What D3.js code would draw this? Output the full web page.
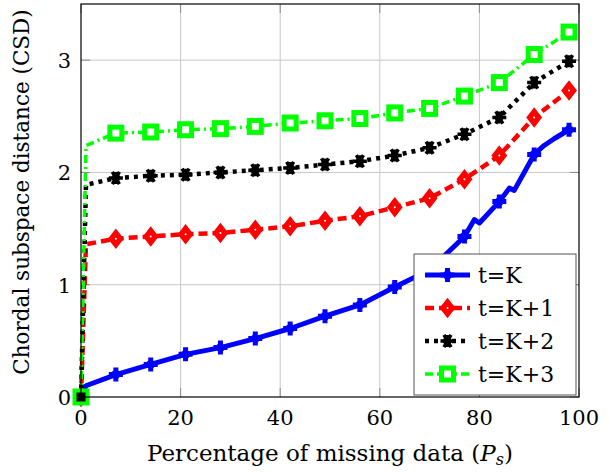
<!DOCTYPE html>
<html>
<head>
<meta charset="utf-8">
<script src="https://cdn.jsdelivr.net/npm/d3@7"></script>
<style>
  body { margin: 0; background: #fff; }
  svg text { font-family: "DejaVu Serif", "Liberation Serif", serif; fill: #000; }
</style>
</head>
<body>
<div id="chart"></div>
<script>
// valeurs
const missingPct = [0, 1, 7, 14, 21, 28, 35, 42, 49, 56, 63, 70, 77, 84, 91, 98];
const csdK1 = [0, 1.36, 1.41, 1.43, 1.45, 1.46, 1.49, 1.52, 1.57, 1.61, 1.69, 1.77, 1.94, 2.15, 2.49, 2.73];
const csdK2 = [0, 1.89, 1.95, 1.97, 1.98, 2.00, 2.02, 2.04, 2.07, 2.10, 2.15, 2.22, 2.34, 2.49, 2.80, 2.99];
const csdK3 = [0, 2.24, 2.35, 2.36, 2.38, 2.39, 2.41, 2.44, 2.46, 2.48, 2.53, 2.57, 2.68, 2.80, 3.05, 3.25];
const missingPctK = [0, 1, 7, 14, 21, 28, 35, 42, 49, 56, 63, 70, 77, 79, 80, 84, 86, 87, 91, 93, 95, 98];
const csdK = [0, 0.10, 0.20, 0.29, 0.38, 0.44, 0.52, 0.61, 0.72, 0.82, 0.98, 1.13, 1.43, 1.58, 1.55, 1.74, 1.86, 1.84, 2.16, 2.24, 2.30, 2.38];
const seriesLabels = ["t=K", "t=K+1", "t=K+2", "t=K+3"];
const xTicks = [0, 20, 40, 60, 80, 100];
const yTicks = [0, 1, 2, 3];

const W = 610, H = 472;
const plot = { left: 81, right: 579, top: 4, bottom: 397 };

const svg = d3.select("#chart").append("svg")
    .attr("width", W)
    .attr("height", H);

const x = d3.scaleLinear().domain([0, 100]).range([plot.left, plot.right]);
const y = d3.scaleLinear().domain([0, 3.5]).range([plot.bottom, plot.top]);

// grille
svg.append("g").selectAll("line.gx")
    .data(xTicks.slice(1, -1))
    .enter().append("line")
    .attr("x1", d => x(d)).attr("x2", d => x(d))
    .attr("y1", plot.top).attr("y2", plot.bottom)
    .attr("stroke", "#c8c8c8").attr("stroke-width", 1);
svg.append("g").selectAll("line.gy")
    .data(yTicks.slice(1))
    .enter().append("line")
    .attr("x1", plot.left).attr("x2", plot.right)
    .attr("y1", d => y(d)).attr("y2", d => y(d))
    .attr("stroke", "#c8c8c8").attr("stroke-width", 1);

// petites graduations intérieures
const tickLen = 9;
const tg = svg.append("g").attr("stroke", "#8a8a8a").attr("stroke-width", 1);
xTicks.forEach(t => {
    tg.append("line").attr("x1", x(t)).attr("x2", x(t)).attr("y1", plot.bottom).attr("y2", plot.bottom - tickLen);
    tg.append("line").attr("x1", x(t)).attr("x2", x(t)).attr("y1", plot.top).attr("y2", plot.top + tickLen);
});
yTicks.forEach(t => {
    tg.append("line").attr("y1", y(t)).attr("y2", y(t)).attr("x1", plot.left).attr("x2", plot.left + tickLen);
    tg.append("line").attr("y1", y(t)).attr("y2", y(t)).attr("x1", plot.right).attr("x2", plot.right - tickLen);
});

// labels des ticks
svg.append("g").selectAll("text")
    .data(xTicks)
    .enter().append("text")
    .attr("x", d => x(d))
    .attr("y", 425)
    .attr("text-anchor", "middle")
    .style("font-size", "21px")
    .text(d => d);
svg.append("g").selectAll("text")
    .data(yTicks)
    .enter().append("text")
    .attr("x", 71)
    .attr("y", d => y(d) + 8)
    .attr("text-anchor", "end")
    .style("font-size", "21px")
    .text(d => d);

// titres des axes
const xLabel = svg.append("text")
    .attr("x", (plot.left + plot.right) / 2)
    .attr("y", 461)
    .attr("text-anchor", "middle")
    .style("font-size", "23px");
xLabel.append("tspan").text("Percentage of missing data (");
xLabel.append("tspan").style("font-style", "italic").text("P");
xLabel.append("tspan").style("font-style", "italic").style("font-size", "16px").attr("dy", 4).text("s");
xLabel.append("tspan").attr("dy", -4).text(")");

svg.append("text")
    .attr("transform", "translate(29, 192) rotate(-90)")
    .attr("text-anchor", "middle")
    .style("font-size", "21.5px")
    .text("Chordal subspace distance (CSD)");

// séries
const series = [
    { xs: missingPctK, ys: csdK, color: "#0000ff", dash: null, width: 5, mark: "cross" },
    { xs: missingPct, ys: csdK1, color: "#ff0000", dash: "9,5", width: 4.5, mark: "diamond" },
    { xs: missingPct, ys: csdK2, color: "#000000", dash: "4,5", width: 4.5, mark: "asterisk" },
    { xs: missingPct, ys: csdK3, color: "#00ff00", dash: "8,4,2,4", width: 3.5, mark: "square" }
];

const line = d3.line().x(d => x(d[0])).y(d => y(d[1]));

svg.append("defs").append("clipPath").attr("id", "plotclip")
    .append("rect")
    .attr("x", plot.left - 12).attr("y", plot.top)
    .attr("width", plot.right - plot.left + 24).attr("height", plot.bottom - plot.top + 12);

function drawMark(g, type, color) {
    if (type === "cross") {
        g.append("path")
            .attr("d", "M-7,0H7M0,-7V7")
            .attr("stroke", color).attr("stroke-width", 5);
        g.append("circle").attr("r", 4.5).attr("fill", color);
    } else if (type === "diamond") {
        g.append("path")
            .attr("d", "M0,-9L7,0L0,9L-7,0Z")
            .attr("fill", color).attr("stroke", color).attr("stroke-width", 1.5);
        g.append("circle").attr("r", 1).attr("fill", "#fff");
    } else if (type === "asterisk") {
        g.append("path")
            .attr("d", "M-7,0H7M-3.5,-6.1L3.5,6.1M-3.5,6.1L3.5,-6.1M0,-6V6")
            .attr("stroke", color).attr("stroke-width", 3.5);
        g.append("circle").attr("r", 4).attr("fill", color);
    } else if (type === "square") {
        g.append("rect")
            .attr("x", -6).attr("y", -6).attr("width", 12).attr("height", 12)
            .attr("fill", "#fff").attr("stroke", color).attr("stroke-width", 5);
    }
}

const linesG = svg.append("g").attr("clip-path", "url(#plotclip)");
series.forEach(s => {
    const pts = s.xs.map((v, i) => [v, s.ys[i]]);
    linesG.append("path")
        .attr("d", line(pts))
        .attr("fill", "none")
        .attr("stroke", s.color)
        .attr("stroke-width", s.width)
        .attr("stroke-dasharray", s.dash)
        .attr("stroke-linejoin", "round");
});

// marqueurs tous les 7 %
series.forEach((s, k) => {
    s.xs.forEach((v, i) => {
        if (v % 7 !== 0) return;
        const g = svg.append("g").attr("transform", `translate(${x(v)},${y(s.ys[i])})`);
        drawMark(g, s.mark, s.color);
    });
});
// à l'origine le carré vert a un centre noir
svg.append("rect")
    .attr("x", x(0) - 4.5).attr("y", y(0) - 4.5)
    .attr("width", 9).attr("height", 9)
    .attr("fill", "#000");

// cadre
svg.append("rect")
    .attr("x", plot.left).attr("y", plot.top)
    .attr("width", plot.right - plot.left).attr("height", plot.bottom - plot.top)
    .attr("fill", "none").attr("stroke", "#000").attr("stroke-width", 1.2);

// légende
const legend = svg.append("g").attr("transform", "translate(414, 254)");
legend.append("rect")
    .attr("width", 162).attr("height", 141)
    .attr("fill", "#fff").attr("stroke", "#555").attr("stroke-width", 1);
series.forEach((s, i) => {
    const ly = 21 + i * 33;
    legend.append("line")
        .attr("x1", 11).attr("x2", 56)
        .attr("y1", ly).attr("y2", ly)
        .attr("stroke", s.color)
        .attr("stroke-width", s.width)
        .attr("stroke-dasharray", s.dash);
    drawMark(legend.append("g").attr("transform", `translate(33.5,${ly})`), s.mark, s.color);
    legend.append("text")
        .attr("x", 64)
        .attr("y", ly + 8)
        .style("font-size", "22px")
        .text(seriesLabels[i]);
});
</script>
</body>
</html>
